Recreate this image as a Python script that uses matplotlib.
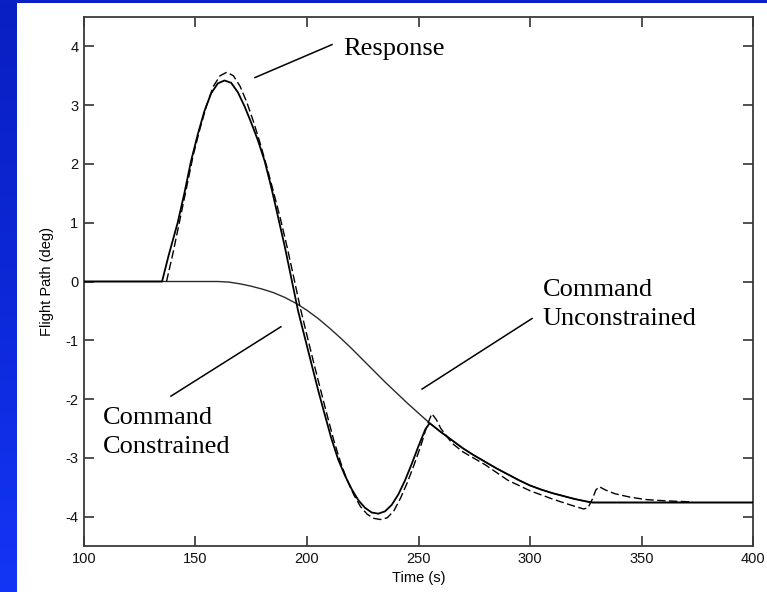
import numpy as np
import matplotlib
matplotlib.use("Agg")
import matplotlib.pyplot as plt
from matplotlib.patches import Rectangle
from matplotlib.colors import LinearSegmentedColormap

# ---- data -------------------------------------------------------------
# Unconstrained command (smooth transition from 0 to about -3.76 deg)
t_unc = [100, 160, 165, 170, 175, 180, 185, 190, 195, 200, 205, 210, 215, 220,
         225, 230, 235, 240, 245, 250, 255, 260, 265, 270, 275, 280, 285, 290,
         295, 300, 305, 310, 315, 320, 325, 328, 400]
y_unc = [0.0, 0.0, -0.01, -0.04, -0.08, -0.13, -0.19, -0.27, -0.37, -0.49, -0.63,
         -0.79, -0.96, -1.14, -1.33, -1.52, -1.71, -1.89, -2.07, -2.24, -2.41,
         -2.56, -2.70, -2.84, -2.96, -3.07, -3.18, -3.28, -3.38, -3.47, -3.54,
         -3.60, -3.65, -3.70, -3.74, -3.76, -3.76]

# Constrained command (solid)
t_con = [100, 135, 138, 142, 145, 148, 151, 154, 157, 160, 163, 166, 169, 172,
         175, 178, 181, 184, 187, 190, 193, 196, 199, 202, 205, 208, 211, 214,
         217, 220, 223, 226, 229, 232, 235, 238, 241, 244, 247, 250, 253, 255,
         260, 265, 270, 275, 280, 285, 290, 295, 300, 305, 310, 315, 320, 325,
         328, 400]
y_con = [0.0, 0.0, 0.45, 1.00, 1.50, 2.05, 2.50, 2.90, 3.20, 3.37, 3.42, 3.38,
         3.22, 2.98, 2.70, 2.40, 2.05, 1.60, 1.10, 0.60, 0.05, -0.50, -0.95,
         -1.40, -1.85, -2.27, -2.68, -3.03, -3.30, -3.53, -3.72, -3.85, -3.93,
         -3.95, -3.91, -3.80, -3.62, -3.38, -3.10, -2.80, -2.52, -2.41,
         -2.56, -2.70, -2.84, -2.96, -3.07, -3.18, -3.28, -3.38, -3.47, -3.54,
         -3.60, -3.65, -3.70, -3.74, -3.76, -3.76]

# Aircraft response (dashed)
t_rsp = [137, 140, 143, 146, 149, 152, 155, 158, 161, 164, 167, 170, 173, 176,
         179, 182, 185, 188, 191, 194, 197, 200, 203, 206, 209, 212, 215, 218,
         221, 224, 227, 230, 233, 236, 239, 242, 245, 248, 251, 254, 256, 258,
         260, 265, 270, 280, 290, 300, 310, 318, 324, 326, 328, 329.5, 331,
         334, 338, 345, 352, 360, 366, 373]
y_rsp = [0.0, 0.50, 1.05, 1.60, 2.15, 2.60, 3.00, 3.32, 3.50, 3.56, 3.50, 3.32,
         3.05, 2.72, 2.35, 1.95, 1.52, 1.08, 0.60, 0.08, -0.45, -0.92, -1.38,
         -1.83, -2.27, -2.70, -3.07, -3.38, -3.63, -3.83, -3.96, -4.03, -4.05,
         -4.02, -3.90, -3.68, -3.42, -3.12, -2.80, -2.43, -2.25, -2.35, -2.50,
         -2.75, -2.90, -3.12, -3.38, -3.56, -3.70, -3.80, -3.87, -3.85, -3.70,
         -3.55, -3.49, -3.55, -3.61, -3.67, -3.71, -3.73, -3.74, -3.75]

x_ticks = [100, 150, 200, 250, 300, 350, 400]
y_ticks = [-4, -3, -2, -1, 0, 1, 2, 3, 4]

# ---- figure -----------------------------------------------------------
W, H = 767, 592
fig = plt.figure(figsize=(W / 100, H / 100), dpi=100, facecolor="white")

# blue slide frame: gradient strip on the left, thin band on top
band = fig.add_axes([0, 0, 17 / W, 1])
grad = np.linspace(0, 1, 256).reshape(-1, 1)
cmap = LinearSegmentedColormap.from_list("frame", ["#1336f6", "#0c28d8", "#0a1fc2"])
band.imshow(grad, aspect="auto", cmap=cmap, origin="lower", extent=[0, 1, 0, 1])
band.set_axis_off()
fig.patches.append(Rectangle((0, 1 - 3 / H), 1, 3 / H, transform=fig.transFigure,
                             facecolor="#0a20c4", edgecolor="none", zorder=5))

ax = fig.add_axes([84 / W, 46 / H, 669 / W, 529 / H])
ax.set_facecolor("white")

ax.plot(t_unc, y_unc, color="#2a2a2a", lw=1.0, zorder=2)
ax.plot(t_con, y_con, color="black", lw=1.3, zorder=3)
ax.plot(t_rsp, y_rsp, color="black", lw=1.0, linestyle=(0, (6, 2.5)), zorder=3)

ax.set_xlim(100, 400)
ax.set_ylim(-4.5, 4.5)
ax.set_xticks(x_ticks)
ax.set_yticks(y_ticks)

tick_font = dict(family=["Liberation Sans", "DejaVu Sans"], size=10.5)
ax.set_xticklabels([str(v) for v in x_ticks], **tick_font)
ax.set_yticklabels([str(v) for v in y_ticks], **tick_font)
ax.tick_params(direction="in", length=7, width=1.2, color="#333333",
               top=True, right=True, pad=4, labelcolor="#111111")
for s in ax.spines.values():
    s.set_color("#3a3a3a")
    s.set_linewidth(1.3)

ax.set_xlabel("Time (s)", fontsize=10.5, family=["Liberation Sans", "DejaVu Sans"],
              labelpad=4)
ax.set_ylabel("Flight Path (deg)", fontsize=10.5,
              family=["Liberation Sans", "DejaVu Sans"], labelpad=8)

# annotations (multi-line labels anchored at the baseline of their last line)
serif = dict(family=["Liberation Serif", "DejaVu Serif"], size=19, color="black")
ax.text(216.1, 3.85, "Response", ha="left", va="baseline", **serif)
ax.plot([176.7, 211.2], [3.47, 4.03], color="black", lw=1.1)

ax.text(305.8, -0.735, "Command\nUnconstrained", ha="left", va="baseline",
        linespacing=1.42, **serif)
ax.plot([251.6, 300.9], [-1.83, -0.63], color="black", lw=1.1)

ax.text(108.5, -2.923, "Command\nConstrained", ha="left", va="baseline",
        linespacing=1.42, **serif)
ax.plot([139.0, 188.3], [-1.95, -0.77], color="black", lw=1.1)

fig.savefig("out.png", dpi=100, facecolor="white")
